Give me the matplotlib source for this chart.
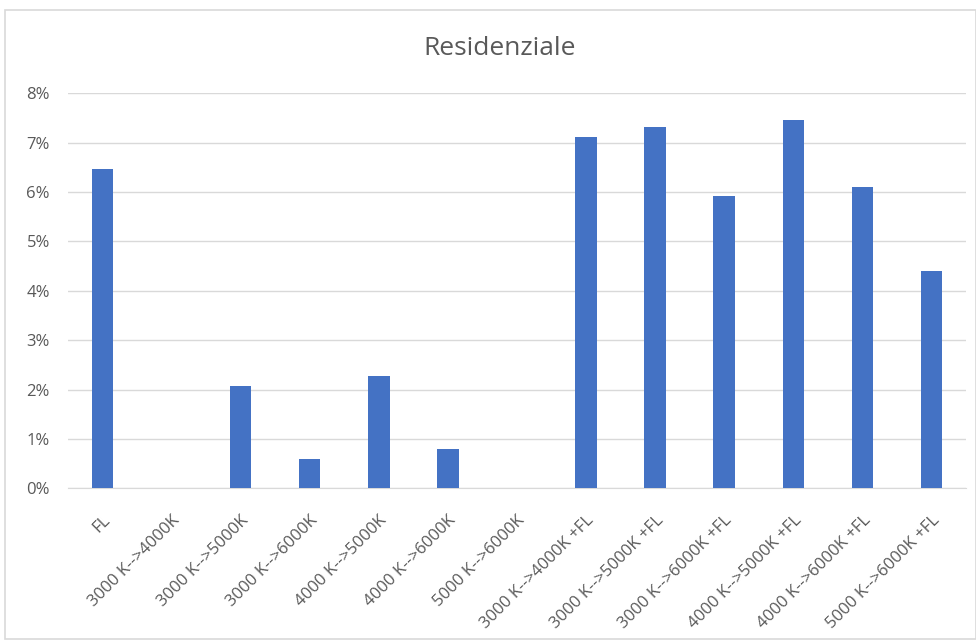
import matplotlib.pyplot as plt
import matplotlib.transforms as mtransforms
from matplotlib.patches import Rectangle
from matplotlib.ticker import PercentFormatter

categories = ["FL", "3000 K-->4000K", "3000 K-->5000K", "3000 K-->6000K",
              "4000 K-->5000K", "4000 K-->6000K", "5000 K-->6000K",
              "3000 K-->4000K +FL", "3000 K-->5000K +FL", "3000 K-->6000K +FL",
              "4000 K-->5000K +FL", "4000 K-->6000K +FL", "5000 K-->6000K +FL"]
values = [6.46, 0.0, 2.07, 0.59, 2.27, 0.80, 0.0,
          7.11, 7.31, 5.93, 7.45, 6.10, 4.41]

plt.rcParams['font.family'] = ['Open Sans', 'DejaVu Sans']

fig = plt.figure(figsize=(9.76, 6.42), dpi=100)
ax = fig.add_axes([0.0697, 0.2391, 0.92, 0.6156])

# chart frame
fig.patches.append(Rectangle((0.005, 0.005), 0.995, 0.98, transform=fig.transFigure,
                             fill=False, edgecolor='#D9D9D9', lw=1.2))

x = range(len(categories))
ax.bar(x, values, width=0.31, color='#4472C4', zorder=3)

ax.set_xlim(-0.5, len(categories) - 0.5)
ax.set_ylim(0, 8)
ax.set_yticks(range(0, 9))
ax.yaxis.set_major_formatter(PercentFormatter(decimals=0))
ax.grid(axis='y', color='#D9D9D9', lw=1, zorder=0)

for s in ['top', 'right', 'left']:
    ax.spines[s].set_visible(False)
ax.spines['bottom'].set_color('#D9D9D9')
ax.tick_params(axis='both', length=0, colors='#595959', labelsize=12)
ax.tick_params(axis='y', pad=13)

ax.set_xticks(list(x))
ax.set_xticklabels(categories, rotation=45, ha='right', rotation_mode='anchor')
shift = mtransforms.ScaledTranslation(6 / 100, 0, fig.dpi_scale_trans)
for lbl in ax.get_xticklabels():
    lbl.set_transform(lbl.get_transform() + shift)
ax.tick_params(axis='x', pad=17)

fig.text(0.512, 0.925, "Residenziale", ha='center', va='center',
         fontsize=19, color='#595959')

fig.savefig("out.png", dpi=100)
